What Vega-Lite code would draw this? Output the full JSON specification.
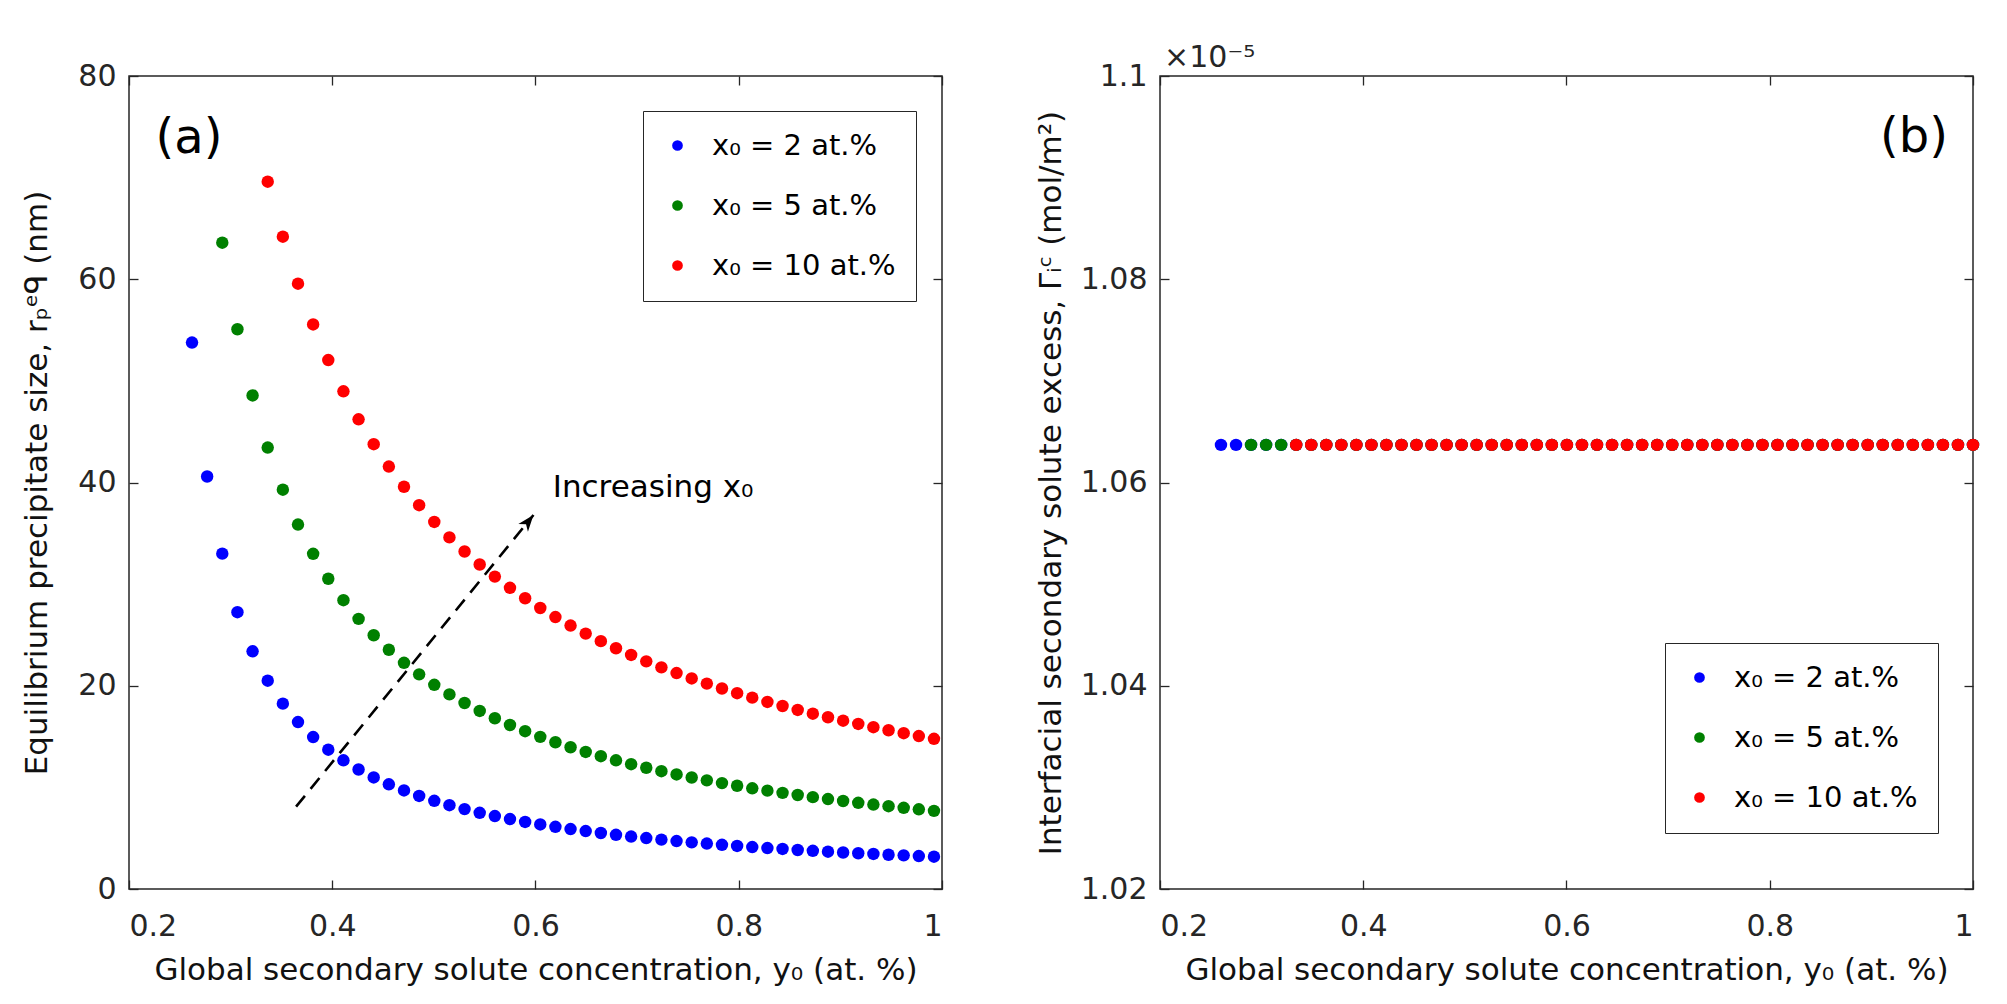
{
"$schema":"https://vega.github.io/schema/vega-lite/v6.json",
"padding":{"left":21,"top":42,"right":5,"bottom":5},
"background":"white",
"config":{
 "font":"DejaVu Sans",
 "view":{"stroke":"#262626","strokeWidth":1.5},
 "axis":{"domain":false,"grid":false,"tickSize":-9,"tickColor":"#262626","tickWidth":1.3,"labelFont":"DejaVu Sans","labelFontSize":30,"labelColor":"#262626","titleFont":"DejaVu Sans","titleFontSize":31,"titleFontWeight":"normal","titleColor":"#111111"},
 "legend":{"orient":"none","title":null,"strokeColor":"#262626","fillColor":"white","padding":20,"labelFont":"DejaVu Sans","labelFontSize":29,"labelColor":"#000000","symbolType":"circle","symbolSize":115,"symbolStrokeWidth":0,"rowPadding":30,"labelOffset":20,"labelLimit":400}
},
"datasets":{
"a":[
{"s":"x₀ = 2 at.%","x":0.262,"y":53.77},{"s":"x₀ = 2 at.%","x":0.2769,"y":40.59},{"s":"x₀ = 2 at.%","x":0.2918,"y":33.0},{"s":"x₀ = 2 at.%","x":0.3067,"y":27.24},{"s":"x₀ = 2 at.%","x":0.3216,"y":23.39},{"s":"x₀ = 2 at.%","x":0.3365,"y":20.5},{"s":"x₀ = 2 at.%","x":0.3514,"y":18.24},{"s":"x₀ = 2 at.%","x":0.3663,"y":16.43},{"s":"x₀ = 2 at.%","x":0.3812,"y":14.95},{"s":"x₀ = 2 at.%","x":0.3961,"y":13.71},{"s":"x₀ = 2 at.%","x":0.411,"y":12.66},{"s":"x₀ = 2 at.%","x":0.4259,"y":11.76},{"s":"x₀ = 2 at.%","x":0.4408,"y":10.98},{"s":"x₀ = 2 at.%","x":0.4557,"y":10.3},{"s":"x₀ = 2 at.%","x":0.4706,"y":9.7},{"s":"x₀ = 2 at.%","x":0.4855,"y":9.16},{"s":"x₀ = 2 at.%","x":0.5004,"y":8.68},{"s":"x₀ = 2 at.%","x":0.5153,"y":8.25},{"s":"x₀ = 2 at.%","x":0.5302,"y":7.86},{"s":"x₀ = 2 at.%","x":0.5451,"y":7.5},{"s":"x₀ = 2 at.%","x":0.56,"y":7.18},{"s":"x₀ = 2 at.%","x":0.5749,"y":6.88},{"s":"x₀ = 2 at.%","x":0.5898,"y":6.6},{"s":"x₀ = 2 at.%","x":0.6047,"y":6.35},{"s":"x₀ = 2 at.%","x":0.6196,"y":6.12},{"s":"x₀ = 2 at.%","x":0.6345,"y":5.9},{"s":"x₀ = 2 at.%","x":0.6494,"y":5.7},{"s":"x₀ = 2 at.%","x":0.6643,"y":5.51},{"s":"x₀ = 2 at.%","x":0.6792,"y":5.33},{"s":"x₀ = 2 at.%","x":0.6941,"y":5.16},{"s":"x₀ = 2 at.%","x":0.709,"y":5.01},{"s":"x₀ = 2 at.%","x":0.7239,"y":4.86},{"s":"x₀ = 2 at.%","x":0.7388,"y":4.72},{"s":"x₀ = 2 at.%","x":0.7537,"y":4.59},{"s":"x₀ = 2 at.%","x":0.7686,"y":4.47},{"s":"x₀ = 2 at.%","x":0.7835,"y":4.35},{"s":"x₀ = 2 at.%","x":0.7984,"y":4.24},{"s":"x₀ = 2 at.%","x":0.8133,"y":4.13},{"s":"x₀ = 2 at.%","x":0.8282,"y":4.03},{"s":"x₀ = 2 at.%","x":0.8431,"y":3.94},{"s":"x₀ = 2 at.%","x":0.858,"y":3.84},{"s":"x₀ = 2 at.%","x":0.8729,"y":3.76},{"s":"x₀ = 2 at.%","x":0.8878,"y":3.67},{"s":"x₀ = 2 at.%","x":0.9027,"y":3.59},{"s":"x₀ = 2 at.%","x":0.9176,"y":3.52},{"s":"x₀ = 2 at.%","x":0.9325,"y":3.45},{"s":"x₀ = 2 at.%","x":0.9474,"y":3.37},{"s":"x₀ = 2 at.%","x":0.9623,"y":3.31},{"s":"x₀ = 2 at.%","x":0.9772,"y":3.24},{"s":"x₀ = 2 at.%","x":0.9921,"y":3.18},
{"s":"x₀ = 5 at.%","x":0.2918,"y":63.6},{"s":"x₀ = 5 at.%","x":0.3067,"y":55.08},{"s":"x₀ = 5 at.%","x":0.3216,"y":48.57},{"s":"x₀ = 5 at.%","x":0.3365,"y":43.44},{"s":"x₀ = 5 at.%","x":0.3514,"y":39.29},{"s":"x₀ = 5 at.%","x":0.3663,"y":35.86},{"s":"x₀ = 5 at.%","x":0.3812,"y":32.98},{"s":"x₀ = 5 at.%","x":0.3961,"y":30.53},{"s":"x₀ = 5 at.%","x":0.411,"y":28.42},{"s":"x₀ = 5 at.%","x":0.4259,"y":26.58},{"s":"x₀ = 5 at.%","x":0.4408,"y":24.97},{"s":"x₀ = 5 at.%","x":0.4557,"y":23.54},{"s":"x₀ = 5 at.%","x":0.4706,"y":22.26},{"s":"x₀ = 5 at.%","x":0.4855,"y":21.12},{"s":"x₀ = 5 at.%","x":0.5004,"y":20.09},{"s":"x₀ = 5 at.%","x":0.5153,"y":19.15},{"s":"x₀ = 5 at.%","x":0.5302,"y":18.3},{"s":"x₀ = 5 at.%","x":0.5451,"y":17.52},{"s":"x₀ = 5 at.%","x":0.56,"y":16.8},{"s":"x₀ = 5 at.%","x":0.5749,"y":16.14},{"s":"x₀ = 5 at.%","x":0.5898,"y":15.53},{"s":"x₀ = 5 at.%","x":0.6047,"y":14.97},{"s":"x₀ = 5 at.%","x":0.6196,"y":14.44},{"s":"x₀ = 5 at.%","x":0.6345,"y":13.95},{"s":"x₀ = 5 at.%","x":0.6494,"y":13.49},{"s":"x₀ = 5 at.%","x":0.6643,"y":13.07},{"s":"x₀ = 5 at.%","x":0.6792,"y":12.66},{"s":"x₀ = 5 at.%","x":0.6941,"y":12.28},{"s":"x₀ = 5 at.%","x":0.709,"y":11.93},{"s":"x₀ = 5 at.%","x":0.7239,"y":11.59},{"s":"x₀ = 5 at.%","x":0.7388,"y":11.27},{"s":"x₀ = 5 at.%","x":0.7537,"y":10.97},{"s":"x₀ = 5 at.%","x":0.7686,"y":10.69},{"s":"x₀ = 5 at.%","x":0.7835,"y":10.42},{"s":"x₀ = 5 at.%","x":0.7984,"y":10.16},{"s":"x₀ = 5 at.%","x":0.8133,"y":9.91},{"s":"x₀ = 5 at.%","x":0.8282,"y":9.68},{"s":"x₀ = 5 at.%","x":0.8431,"y":9.46},{"s":"x₀ = 5 at.%","x":0.858,"y":9.25},{"s":"x₀ = 5 at.%","x":0.8729,"y":9.04},{"s":"x₀ = 5 at.%","x":0.8878,"y":8.85},{"s":"x₀ = 5 at.%","x":0.9027,"y":8.66},{"s":"x₀ = 5 at.%","x":0.9176,"y":8.48},{"s":"x₀ = 5 at.%","x":0.9325,"y":8.31},{"s":"x₀ = 5 at.%","x":0.9474,"y":8.15},{"s":"x₀ = 5 at.%","x":0.9623,"y":7.99},{"s":"x₀ = 5 at.%","x":0.9772,"y":7.84},{"s":"x₀ = 5 at.%","x":0.9921,"y":7.69},
{"s":"x₀ = 10 at.%","x":0.3365,"y":69.6},{"s":"x₀ = 10 at.%","x":0.3514,"y":64.19},{"s":"x₀ = 10 at.%","x":0.3663,"y":59.56},{"s":"x₀ = 10 at.%","x":0.3812,"y":55.55},{"s":"x₀ = 10 at.%","x":0.3961,"y":52.05},{"s":"x₀ = 10 at.%","x":0.411,"y":48.97},{"s":"x₀ = 10 at.%","x":0.4259,"y":46.22},{"s":"x₀ = 10 at.%","x":0.4408,"y":43.77},{"s":"x₀ = 10 at.%","x":0.4557,"y":41.57},{"s":"x₀ = 10 at.%","x":0.4706,"y":39.58},{"s":"x₀ = 10 at.%","x":0.4855,"y":37.77},{"s":"x₀ = 10 at.%","x":0.5004,"y":36.12},{"s":"x₀ = 10 at.%","x":0.5153,"y":34.6},{"s":"x₀ = 10 at.%","x":0.5302,"y":33.21},{"s":"x₀ = 10 at.%","x":0.5451,"y":31.93},{"s":"x₀ = 10 at.%","x":0.56,"y":30.74},{"s":"x₀ = 10 at.%","x":0.5749,"y":29.64},{"s":"x₀ = 10 at.%","x":0.5898,"y":28.61},{"s":"x₀ = 10 at.%","x":0.6047,"y":27.65},{"s":"x₀ = 10 at.%","x":0.6196,"y":26.76},{"s":"x₀ = 10 at.%","x":0.6345,"y":25.92},{"s":"x₀ = 10 at.%","x":0.6494,"y":25.13},{"s":"x₀ = 10 at.%","x":0.6643,"y":24.39},{"s":"x₀ = 10 at.%","x":0.6792,"y":23.69},{"s":"x₀ = 10 at.%","x":0.6941,"y":23.03},{"s":"x₀ = 10 at.%","x":0.709,"y":22.4},{"s":"x₀ = 10 at.%","x":0.7239,"y":21.81},{"s":"x₀ = 10 at.%","x":0.7388,"y":21.25},{"s":"x₀ = 10 at.%","x":0.7537,"y":20.72},{"s":"x₀ = 10 at.%","x":0.7686,"y":20.21},{"s":"x₀ = 10 at.%","x":0.7835,"y":19.73},{"s":"x₀ = 10 at.%","x":0.7984,"y":19.27},{"s":"x₀ = 10 at.%","x":0.8133,"y":18.83},{"s":"x₀ = 10 at.%","x":0.8282,"y":18.41},{"s":"x₀ = 10 at.%","x":0.8431,"y":18.01},{"s":"x₀ = 10 at.%","x":0.858,"y":17.62},{"s":"x₀ = 10 at.%","x":0.8729,"y":17.25},{"s":"x₀ = 10 at.%","x":0.8878,"y":16.9},{"s":"x₀ = 10 at.%","x":0.9027,"y":16.56},{"s":"x₀ = 10 at.%","x":0.9176,"y":16.24},{"s":"x₀ = 10 at.%","x":0.9325,"y":15.92},{"s":"x₀ = 10 at.%","x":0.9474,"y":15.62},{"s":"x₀ = 10 at.%","x":0.9623,"y":15.33},{"s":"x₀ = 10 at.%","x":0.9772,"y":15.05},{"s":"x₀ = 10 at.%","x":0.9921,"y":14.78}
],
"b":[
{"s":"x₀ = 2 at.%","x":0.26,"y":1.0637e-5},{"s":"x₀ = 2 at.%","x":0.2748,"y":1.0637e-5},{"s":"x₀ = 2 at.%","x":0.2896,"y":1.0637e-5},{"s":"x₀ = 2 at.%","x":0.3044,"y":1.0637e-5},{"s":"x₀ = 2 at.%","x":0.3192,"y":1.0637e-5},{"s":"x₀ = 2 at.%","x":0.334,"y":1.0637e-5},{"s":"x₀ = 2 at.%","x":0.3488,"y":1.0637e-5},{"s":"x₀ = 2 at.%","x":0.3636,"y":1.0637e-5},{"s":"x₀ = 2 at.%","x":0.3784,"y":1.0637e-5},{"s":"x₀ = 2 at.%","x":0.3932,"y":1.0637e-5},{"s":"x₀ = 2 at.%","x":0.408,"y":1.0637e-5},{"s":"x₀ = 2 at.%","x":0.4228,"y":1.0637e-5},{"s":"x₀ = 2 at.%","x":0.4376,"y":1.0637e-5},{"s":"x₀ = 2 at.%","x":0.4524,"y":1.0637e-5},{"s":"x₀ = 2 at.%","x":0.4672,"y":1.0637e-5},{"s":"x₀ = 2 at.%","x":0.482,"y":1.0637e-5},{"s":"x₀ = 2 at.%","x":0.4968,"y":1.0637e-5},{"s":"x₀ = 2 at.%","x":0.5116,"y":1.0637e-5},{"s":"x₀ = 2 at.%","x":0.5264,"y":1.0637e-5},{"s":"x₀ = 2 at.%","x":0.5412,"y":1.0637e-5},{"s":"x₀ = 2 at.%","x":0.556,"y":1.0637e-5},{"s":"x₀ = 2 at.%","x":0.5708,"y":1.0637e-5},{"s":"x₀ = 2 at.%","x":0.5856,"y":1.0637e-5},{"s":"x₀ = 2 at.%","x":0.6004,"y":1.0637e-5},{"s":"x₀ = 2 at.%","x":0.6152,"y":1.0637e-5},{"s":"x₀ = 2 at.%","x":0.63,"y":1.0637e-5},{"s":"x₀ = 2 at.%","x":0.6448,"y":1.0637e-5},{"s":"x₀ = 2 at.%","x":0.6596,"y":1.0637e-5},{"s":"x₀ = 2 at.%","x":0.6744,"y":1.0637e-5},{"s":"x₀ = 2 at.%","x":0.6892,"y":1.0637e-5},{"s":"x₀ = 2 at.%","x":0.704,"y":1.0637e-5},{"s":"x₀ = 2 at.%","x":0.7188,"y":1.0637e-5},{"s":"x₀ = 2 at.%","x":0.7336,"y":1.0637e-5},{"s":"x₀ = 2 at.%","x":0.7484,"y":1.0637e-5},{"s":"x₀ = 2 at.%","x":0.7632,"y":1.0637e-5},{"s":"x₀ = 2 at.%","x":0.778,"y":1.0637e-5},{"s":"x₀ = 2 at.%","x":0.7928,"y":1.0637e-5},{"s":"x₀ = 2 at.%","x":0.8076,"y":1.0637e-5},{"s":"x₀ = 2 at.%","x":0.8224,"y":1.0637e-5},{"s":"x₀ = 2 at.%","x":0.8372,"y":1.0637e-5},{"s":"x₀ = 2 at.%","x":0.852,"y":1.0637e-5},{"s":"x₀ = 2 at.%","x":0.8668,"y":1.0637e-5},{"s":"x₀ = 2 at.%","x":0.8816,"y":1.0637e-5},{"s":"x₀ = 2 at.%","x":0.8964,"y":1.0637e-5},{"s":"x₀ = 2 at.%","x":0.9112,"y":1.0637e-5},{"s":"x₀ = 2 at.%","x":0.926,"y":1.0637e-5},{"s":"x₀ = 2 at.%","x":0.9408,"y":1.0637e-5},{"s":"x₀ = 2 at.%","x":0.9556,"y":1.0637e-5},{"s":"x₀ = 2 at.%","x":0.9704,"y":1.0637e-5},{"s":"x₀ = 2 at.%","x":0.9852,"y":1.0637e-5},{"s":"x₀ = 2 at.%","x":1.0,"y":1.0637e-5},
{"s":"x₀ = 5 at.%","x":0.2896,"y":1.0637e-5},{"s":"x₀ = 5 at.%","x":0.3044,"y":1.0637e-5},{"s":"x₀ = 5 at.%","x":0.3192,"y":1.0637e-5},{"s":"x₀ = 5 at.%","x":0.334,"y":1.0637e-5},{"s":"x₀ = 5 at.%","x":0.3488,"y":1.0637e-5},{"s":"x₀ = 5 at.%","x":0.3636,"y":1.0637e-5},{"s":"x₀ = 5 at.%","x":0.3784,"y":1.0637e-5},{"s":"x₀ = 5 at.%","x":0.3932,"y":1.0637e-5},{"s":"x₀ = 5 at.%","x":0.408,"y":1.0637e-5},{"s":"x₀ = 5 at.%","x":0.4228,"y":1.0637e-5},{"s":"x₀ = 5 at.%","x":0.4376,"y":1.0637e-5},{"s":"x₀ = 5 at.%","x":0.4524,"y":1.0637e-5},{"s":"x₀ = 5 at.%","x":0.4672,"y":1.0637e-5},{"s":"x₀ = 5 at.%","x":0.482,"y":1.0637e-5},{"s":"x₀ = 5 at.%","x":0.4968,"y":1.0637e-5},{"s":"x₀ = 5 at.%","x":0.5116,"y":1.0637e-5},{"s":"x₀ = 5 at.%","x":0.5264,"y":1.0637e-5},{"s":"x₀ = 5 at.%","x":0.5412,"y":1.0637e-5},{"s":"x₀ = 5 at.%","x":0.556,"y":1.0637e-5},{"s":"x₀ = 5 at.%","x":0.5708,"y":1.0637e-5},{"s":"x₀ = 5 at.%","x":0.5856,"y":1.0637e-5},{"s":"x₀ = 5 at.%","x":0.6004,"y":1.0637e-5},{"s":"x₀ = 5 at.%","x":0.6152,"y":1.0637e-5},{"s":"x₀ = 5 at.%","x":0.63,"y":1.0637e-5},{"s":"x₀ = 5 at.%","x":0.6448,"y":1.0637e-5},{"s":"x₀ = 5 at.%","x":0.6596,"y":1.0637e-5},{"s":"x₀ = 5 at.%","x":0.6744,"y":1.0637e-5},{"s":"x₀ = 5 at.%","x":0.6892,"y":1.0637e-5},{"s":"x₀ = 5 at.%","x":0.704,"y":1.0637e-5},{"s":"x₀ = 5 at.%","x":0.7188,"y":1.0637e-5},{"s":"x₀ = 5 at.%","x":0.7336,"y":1.0637e-5},{"s":"x₀ = 5 at.%","x":0.7484,"y":1.0637e-5},{"s":"x₀ = 5 at.%","x":0.7632,"y":1.0637e-5},{"s":"x₀ = 5 at.%","x":0.778,"y":1.0637e-5},{"s":"x₀ = 5 at.%","x":0.7928,"y":1.0637e-5},{"s":"x₀ = 5 at.%","x":0.8076,"y":1.0637e-5},{"s":"x₀ = 5 at.%","x":0.8224,"y":1.0637e-5},{"s":"x₀ = 5 at.%","x":0.8372,"y":1.0637e-5},{"s":"x₀ = 5 at.%","x":0.852,"y":1.0637e-5},{"s":"x₀ = 5 at.%","x":0.8668,"y":1.0637e-5},{"s":"x₀ = 5 at.%","x":0.8816,"y":1.0637e-5},{"s":"x₀ = 5 at.%","x":0.8964,"y":1.0637e-5},{"s":"x₀ = 5 at.%","x":0.9112,"y":1.0637e-5},{"s":"x₀ = 5 at.%","x":0.926,"y":1.0637e-5},{"s":"x₀ = 5 at.%","x":0.9408,"y":1.0637e-5},{"s":"x₀ = 5 at.%","x":0.9556,"y":1.0637e-5},{"s":"x₀ = 5 at.%","x":0.9704,"y":1.0637e-5},{"s":"x₀ = 5 at.%","x":0.9852,"y":1.0637e-5},{"s":"x₀ = 5 at.%","x":1.0,"y":1.0637e-5},
{"s":"x₀ = 10 at.%","x":0.334,"y":1.0637e-5},{"s":"x₀ = 10 at.%","x":0.3488,"y":1.0637e-5},{"s":"x₀ = 10 at.%","x":0.3636,"y":1.0637e-5},{"s":"x₀ = 10 at.%","x":0.3784,"y":1.0637e-5},{"s":"x₀ = 10 at.%","x":0.3932,"y":1.0637e-5},{"s":"x₀ = 10 at.%","x":0.408,"y":1.0637e-5},{"s":"x₀ = 10 at.%","x":0.4228,"y":1.0637e-5},{"s":"x₀ = 10 at.%","x":0.4376,"y":1.0637e-5},{"s":"x₀ = 10 at.%","x":0.4524,"y":1.0637e-5},{"s":"x₀ = 10 at.%","x":0.4672,"y":1.0637e-5},{"s":"x₀ = 10 at.%","x":0.482,"y":1.0637e-5},{"s":"x₀ = 10 at.%","x":0.4968,"y":1.0637e-5},{"s":"x₀ = 10 at.%","x":0.5116,"y":1.0637e-5},{"s":"x₀ = 10 at.%","x":0.5264,"y":1.0637e-5},{"s":"x₀ = 10 at.%","x":0.5412,"y":1.0637e-5},{"s":"x₀ = 10 at.%","x":0.556,"y":1.0637e-5},{"s":"x₀ = 10 at.%","x":0.5708,"y":1.0637e-5},{"s":"x₀ = 10 at.%","x":0.5856,"y":1.0637e-5},{"s":"x₀ = 10 at.%","x":0.6004,"y":1.0637e-5},{"s":"x₀ = 10 at.%","x":0.6152,"y":1.0637e-5},{"s":"x₀ = 10 at.%","x":0.63,"y":1.0637e-5},{"s":"x₀ = 10 at.%","x":0.6448,"y":1.0637e-5},{"s":"x₀ = 10 at.%","x":0.6596,"y":1.0637e-5},{"s":"x₀ = 10 at.%","x":0.6744,"y":1.0637e-5},{"s":"x₀ = 10 at.%","x":0.6892,"y":1.0637e-5},{"s":"x₀ = 10 at.%","x":0.704,"y":1.0637e-5},{"s":"x₀ = 10 at.%","x":0.7188,"y":1.0637e-5},{"s":"x₀ = 10 at.%","x":0.7336,"y":1.0637e-5},{"s":"x₀ = 10 at.%","x":0.7484,"y":1.0637e-5},{"s":"x₀ = 10 at.%","x":0.7632,"y":1.0637e-5},{"s":"x₀ = 10 at.%","x":0.778,"y":1.0637e-5},{"s":"x₀ = 10 at.%","x":0.7928,"y":1.0637e-5},{"s":"x₀ = 10 at.%","x":0.8076,"y":1.0637e-5},{"s":"x₀ = 10 at.%","x":0.8224,"y":1.0637e-5},{"s":"x₀ = 10 at.%","x":0.8372,"y":1.0637e-5},{"s":"x₀ = 10 at.%","x":0.852,"y":1.0637e-5},{"s":"x₀ = 10 at.%","x":0.8668,"y":1.0637e-5},{"s":"x₀ = 10 at.%","x":0.8816,"y":1.0637e-5},{"s":"x₀ = 10 at.%","x":0.8964,"y":1.0637e-5},{"s":"x₀ = 10 at.%","x":0.9112,"y":1.0637e-5},{"s":"x₀ = 10 at.%","x":0.926,"y":1.0637e-5},{"s":"x₀ = 10 at.%","x":0.9408,"y":1.0637e-5},{"s":"x₀ = 10 at.%","x":0.9556,"y":1.0637e-5},{"s":"x₀ = 10 at.%","x":0.9704,"y":1.0637e-5},{"s":"x₀ = 10 at.%","x":0.9852,"y":1.0637e-5},{"s":"x₀ = 10 at.%","x":1.0,"y":1.0637e-5}
]
},
"hconcat":[
{
 "width":813,"height":813,
 "layer":[
  {"data":{"name":"a"},"mark":{"type":"point","filled":true,"opacity":1,"size":155,"strokeWidth":0},
   "encoding":{
    "x":{"field":"x","type":"quantitative","scale":{"domain":[0.2,1],"nice":false,"zero":false},"axis":{"title":"Global secondary solute concentration, y₀ (at. %)","values":[0.2,0.4,0.6,0.8,1],"format":"~g","labelPadding":31,"titlePadding":14}},
    "y":{"field":"y","type":"quantitative","scale":{"domain":[0,80],"nice":false,"zero":false},"axis":{"title":"Equilibrium precipitate size, rₚᵉᑫ (nm)","values":[0,20,40,60,80],"labelPadding":22,"titlePadding":24}},
    "color":{"field":"s","type":"nominal","scale":{"domain":["x₀ = 2 at.%","x₀ = 5 at.%","x₀ = 10 at.%"],"range":["#0000ff","#008000","#ff0000"]},"legend":{"orient":"none","legendX":514,"legendY":35}}
   }},
  {"data":{"name":"a"},"mark":{"type":"point","opacity":0},
   "encoding":{
    "x":{"field":"x","type":"quantitative","scale":{"domain":[0.2,1],"nice":false,"zero":false},"axis":{"orient":"top","labels":false,"title":null,"values":[0.2,0.4,0.6,0.8,1]}},
    "y":{"field":"y","type":"quantitative","scale":{"domain":[0,80],"nice":false,"zero":false},"axis":{"orient":"right","labels":false,"title":null,"values":[0,20,40,60,80]}}
   }},
  {"data":{"values":[{"x":0.3644,"y":8.1},{"x":0.598,"y":36.8}]},"mark":{"type":"line","color":"#000000","strokeWidth":2.6,"strokeDash":[14,9]},
   "encoding":{"x":{"field":"x","type":"quantitative","scale":{"domain":[0.2,1]},"axis":null},"y":{"field":"y","type":"quantitative","scale":{"domain":[0,80]},"axis":null}}},
  {"data":{"values":[{"x":0.598,"y":36.8}]},"mark":{"type":"point","shape":"M0,0 L0.6,1.6 L0,1.15 L-0.6,1.6 Z","filled":true,"color":"#000000","opacity":1,"size":420,"angle":39},
   "encoding":{"x":{"field":"x","type":"quantitative","scale":{"domain":[0.2,1]},"axis":null},"y":{"field":"y","type":"quantitative","scale":{"domain":[0,80]},"axis":null}}},
  {"data":{"values":[{"x":0.259,"y":72.4,"t":"(a)"}]},"mark":{"type":"text","fontSize":48,"align":"center","baseline":"alphabetic","color":"#000000"},
   "encoding":{"x":{"field":"x","type":"quantitative","scale":{"domain":[0.2,1]},"axis":null},"y":{"field":"y","type":"quantitative","scale":{"domain":[0,80]},"axis":null},"text":{"field":"t"}}},
  {"data":{"values":[{"x":0.617,"y":38.6,"t":"Increasing x₀"}]},"mark":{"type":"text","fontSize":31,"align":"left","baseline":"alphabetic","color":"#000000"},
   "encoding":{"x":{"field":"x","type":"quantitative","scale":{"domain":[0.2,1]},"axis":null},"y":{"field":"y","type":"quantitative","scale":{"domain":[0,80]},"axis":null},"text":{"field":"t"}}}
 ],
 "resolve":{"axis":{"x":"independent","y":"independent"}}
},
{
 "width":813,"height":813,
 "layer":[
  {"data":{"name":"b"},"mark":{"type":"point","filled":true,"opacity":1,"size":155,"strokeWidth":0},
   "encoding":{
    "x":{"field":"x","type":"quantitative","scale":{"domain":[0.2,1],"nice":false,"zero":false},"axis":{"title":"Global secondary solute concentration, y₀ (at. %)","values":[0.2,0.4,0.6,0.8,1],"format":"~g","labelPadding":31,"titlePadding":14}},
    "y":{"field":"y","type":"quantitative","scale":{"domain":[1.02e-5,1.1e-5],"nice":false,"zero":false},"axis":{"title":"Interfacial secondary solute excess, Γᵢᶜ (mol/m²)","values":[1.02e-5,1.04e-5,1.06e-5,1.08e-5,1.1e-5],"labelExpr":"format(datum.value*100000, '~g')","labelPadding":22,"titlePadding":13}},
    "color":{"field":"s","type":"nominal","scale":{"domain":["x₀ = 2 at.%","x₀ = 5 at.%","x₀ = 10 at.%"],"range":["#0000ff","#008000","#ff0000"]},"legend":{"orient":"none","legendX":505,"legendY":567}}
   }},
  {"data":{"name":"b"},"mark":{"type":"point","opacity":0},
   "encoding":{
    "x":{"field":"x","type":"quantitative","scale":{"domain":[0.2,1],"nice":false,"zero":false},"axis":{"orient":"top","labels":false,"title":null,"values":[0.2,0.4,0.6,0.8,1]}},
    "y":{"field":"y","type":"quantitative","scale":{"domain":[1.02e-5,1.1e-5],"nice":false,"zero":false},"axis":{"orient":"right","labels":false,"title":null,"values":[1.02e-5,1.04e-5,1.06e-5,1.08e-5,1.1e-5]}}
   }},
  {"data":{"values":[{"x":0.942,"y":1.0925e-5,"t":"(b)"}]},"mark":{"type":"text","fontSize":48,"align":"center","baseline":"alphabetic","color":"#000000"},
   "encoding":{"x":{"field":"x","type":"quantitative","scale":{"domain":[0.2,1]},"axis":null},"y":{"field":"y","type":"quantitative","scale":{"domain":[1.02e-5,1.1e-5]},"axis":null},"text":{"field":"t"}}},
  {"data":{"values":[{"x":0.204,"y":1.1009e-5,"t":"×10⁻⁵"}]},"mark":{"type":"text","fontSize":30,"align":"left","baseline":"alphabetic","color":"#262626"},
   "encoding":{"x":{"field":"x","type":"quantitative","scale":{"domain":[0.2,1]},"axis":null},"y":{"field":"y","type":"quantitative","scale":{"domain":[1.02e-5,1.1e-5]},"axis":null},"text":{"field":"t"}}}
 ],
 "resolve":{"axis":{"x":"independent","y":"independent"}}
}
],
"spacing":218,
"bounds":"flush",
"resolve":{"scale":{"color":"independent"},"legend":{"color":"independent"}}
}
